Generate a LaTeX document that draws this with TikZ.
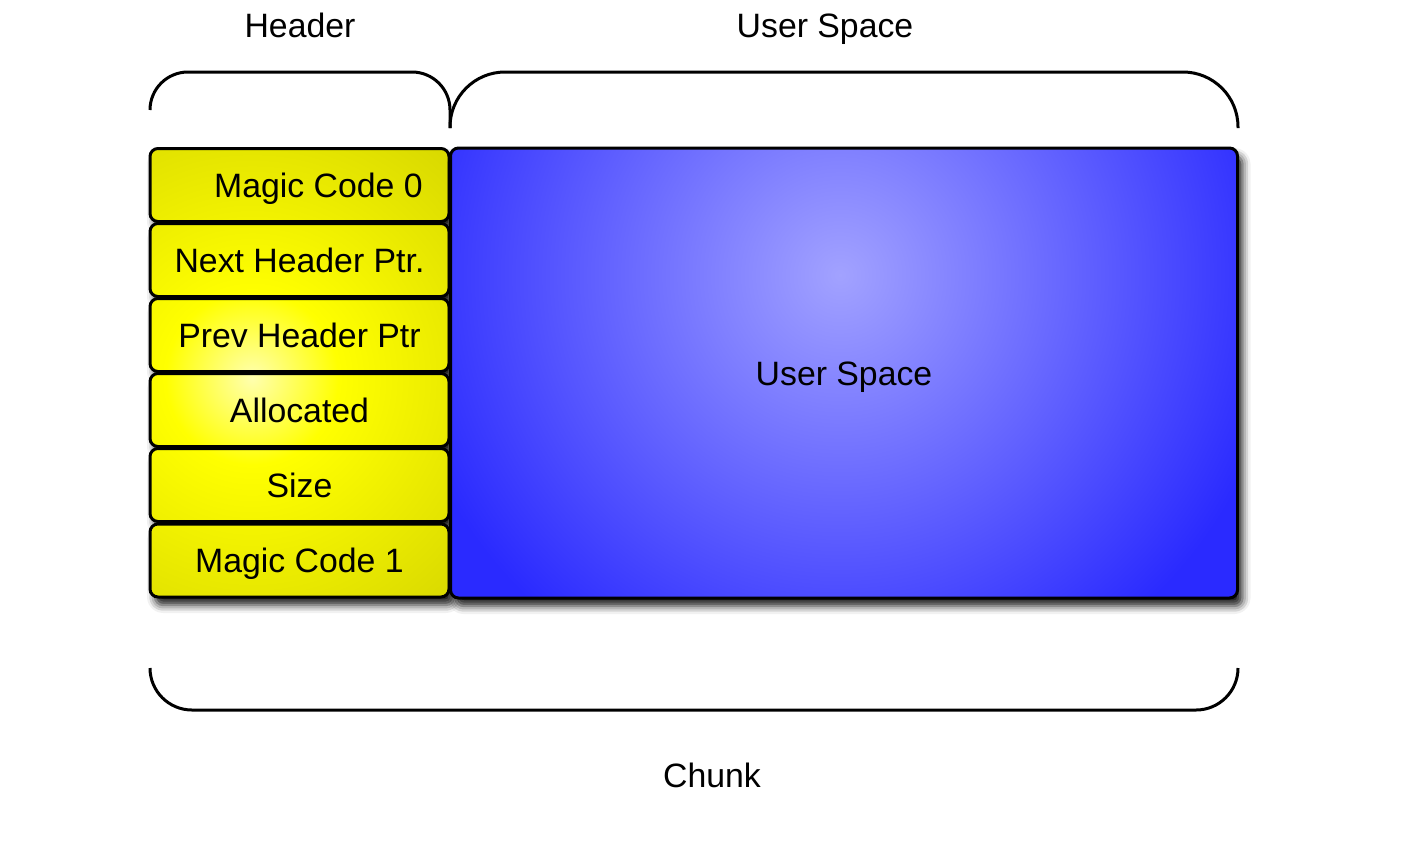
\documentclass[tikz,border=0pt]{standalone}
\usepackage{fontspec}
\setmainfont{Liberation Sans}
\usetikzlibrary{shadows.blur}
\definecolor{hlite}{RGB}{255,255,175}
\definecolor{hdark}{RGB}{206,206,0}
\definecolor{ulite}{RGB}{162,162,255}
\definecolor{udark}{RGB}{42,42,255}
\pgfdeclareradialshading{headerglow}{\pgfpoint{0bp}{0bp}}{color(0bp)=(hlite); color(6bp)=(yellow); color(25bp)=(hdark); color(50bp)=(hdark)}
\tikzset{
	labeltext/.style={font=\fontsize{16.9pt}{20pt}\selectfont, inner sep=0pt, text height=12.1pt, text depth=0pt},
	boxshadow/.style={blur shadow={shadow xshift=2.5pt, shadow yshift=-4pt, shadow blur radius=4pt, shadow opacity=90}},
	field/.style={labeltext, draw=black, fill=hdark, line width=1.5pt, rounded corners=4pt, minimum width=149.5pt, minimum height=36.5pt, boxshadow, path picture={\shade[shading=headerglow] (hglow) circle[radius=180pt];}},
	userbox/.style={labeltext, draw=black, fill=udark, line width=1.5pt, rounded corners=4pt, minimum width=393.5pt, minimum height=225pt, boxshadow, path picture={\shade[inner color=ulite, outer color=udark] (uglow) circle[radius=225pt];}},
	spanline/.style={line width=1.5pt}
}
\begin{document}
\begin{tikzpicture}[x=0.5pt,y=-0.5pt]
\useasboundingbox (0,0) rectangle (1412,842);
\coordinate (hglow) at (252,378);
\coordinate (uglow) at (840,275);
% header fields
\foreach \n/\y/\txt in {1/185/{\hspace*{19pt}Magic Code 0}, 2/260/{Next Header Ptr.}, 3/335/{Prev Header Ptr}, 4/410/{Allocated}, 5/485/{Size}, 6/560.5/{Magic Code 1}}
{
	\node[field] (h\n) at (299.5,\y) {\txt};
}
\node[userbox] (user) at (844,373) {User Space};
% spans
\draw[spanline,rounded corners=19pt] (150,110) |- (450,72) -- (450,128);
\draw[spanline,rounded corners=27.5pt] (450,128) |- (1238,72) -- (1238,128);
\draw[spanline,rounded corners=21pt] (150,668) |- (1238,710) -- (1238,668);
\node[labeltext] (hdrlabel) at (300,25) {Header};
\node[labeltext] (uslabel) at (825,25) {User Space};
\node[labeltext] (chunklabel) at (712,775) {Chunk};
\end{tikzpicture}
\end{document}
